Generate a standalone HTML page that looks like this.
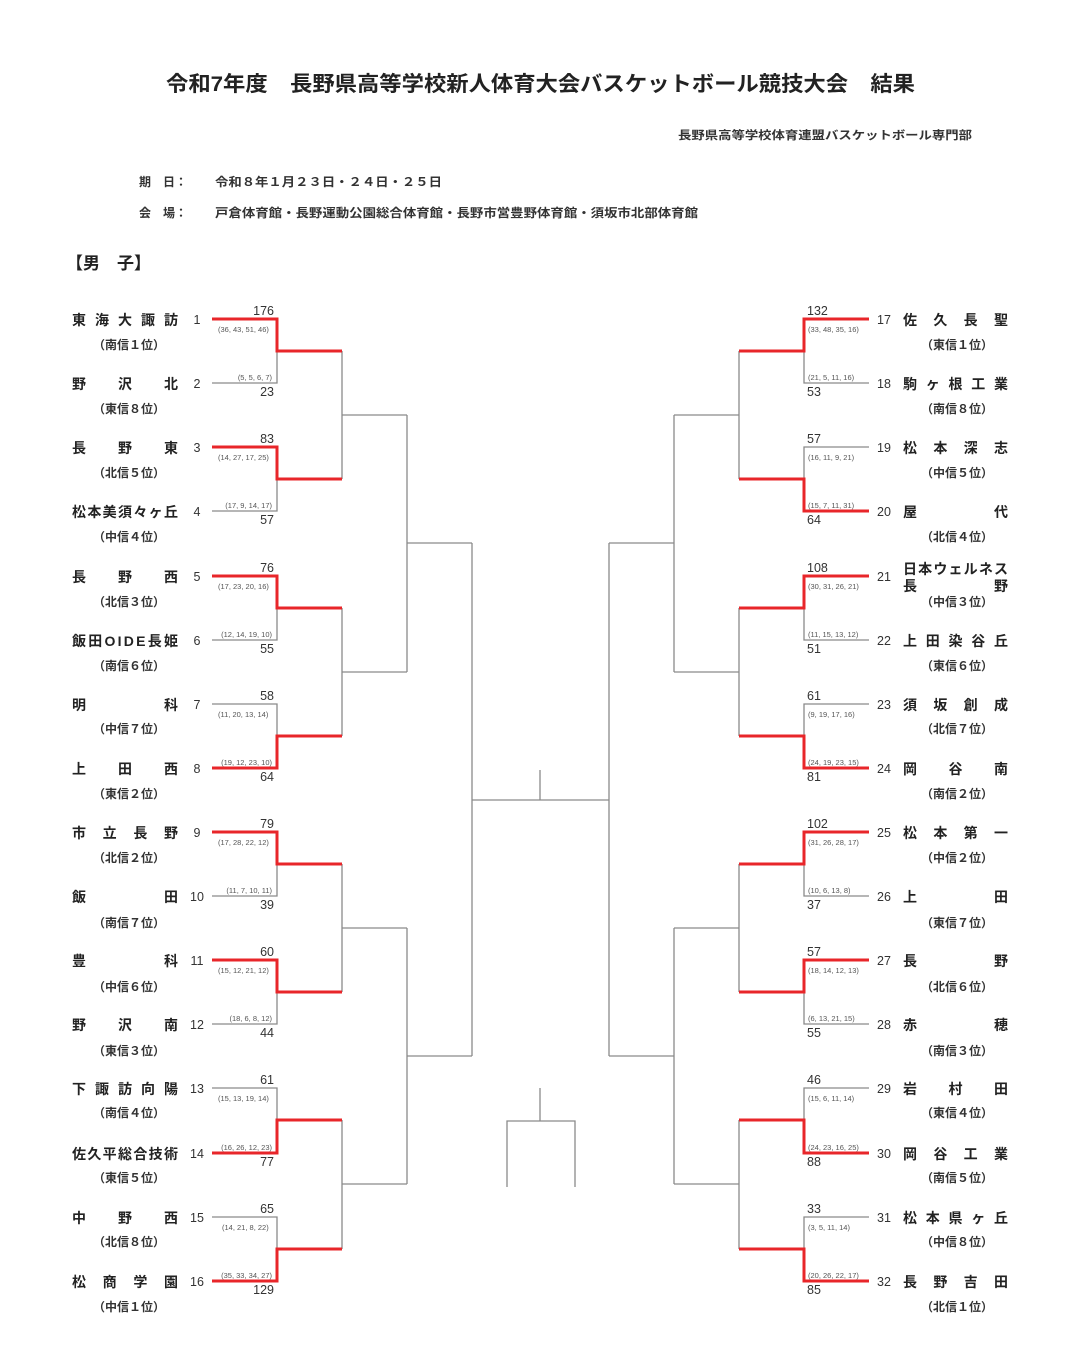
<!DOCTYPE html>
<html><head><meta charset="utf-8">
<style>
html,body{margin:0;padding:0;background:#fff;}
svg{display:block;font-family:"Liberation Sans","Noto Sans CJK JP",sans-serif;}
.n{font-size:14px;font-weight:bold;fill:#222;}
.s{font-size:12.5px;fill:#333;}
.r{font-size:12px;font-weight:bold;fill:#333;}
.q{font-size:7.5px;fill:#555;}
.g{fill:none;stroke:#8a8a8a;stroke-width:1.3;}
.red{fill:none;stroke:#e8262a;stroke-width:3;}
</style></head><body>
<svg width="1086" height="1372" viewBox="0 0 1086 1372" xmlns="http://www.w3.org/2000/svg">
<rect width="1086" height="1372" fill="#fff"/>
<text x="166" y="91" textLength="749" lengthAdjust="spacingAndGlyphs" style="font-size:21px;font-weight:bold;fill:#222">令和7年度　長野県高等学校新人体育大会バスケットボール競技大会　結果</text>
<text x="678" y="139" textLength="294" lengthAdjust="spacingAndGlyphs" style="font-size:11.5px;font-weight:bold;fill:#333">長野県高等学校体育連盟バスケットボール専門部</text>
<text x="139" y="186" style="font-size:12px;font-weight:bold;fill:#333">期　日：</text>
<text x="215" y="186" textLength="227" lengthAdjust="spacingAndGlyphs" style="font-size:12px;font-weight:bold;fill:#333">令和８年１月２３日・２４日・２５日</text>
<text x="139" y="217" style="font-size:12px;font-weight:bold;fill:#333">会　場：</text>
<text x="215" y="217" textLength="483" lengthAdjust="spacingAndGlyphs" style="font-size:12px;font-weight:bold;fill:#333">戸倉体育館・長野運動公園総合体育館・長野市営豊野体育館・須坂市北部体育館</text>
<text x="66" y="269" style="font-size:17px;font-weight:bold;fill:#222">【男　子】</text>

<path class="g" d="M212 383H277V351 M212 511H277V479 M212 640H277V608 M212 704H277V736 M212 896H277V864 M212 1024H277V992 M212 1088H277V1120 M212 1217H277V1249
M342 351V479 M342 608V736 M342 864V992 M342 1120V1249
M342 415H407 M342 672H407 M342 928H407 M342 1184H407
M407 415V672 M407 928V1184 M407 543H472 M407 1056H472
M472 543V1056 M472 800H609 M540 770V800
M540 1088V1121 M507 1187V1121H575V1187"/>
<path class="g" d="M869 383H804V351 M869 447H804V479 M869 640H804V608 M869 704H804V736 M869 896H804V864 M869 1024H804V992 M869 1088H804V1120 M869 1217H804V1249
M739 351V479 M739 608V736 M739 864V992 M739 1120V1249
M739 415H674 M739 672H674 M739 928H674 M739 1184H674
M674 415V672 M674 928V1184 M674 543H609 M674 1056H609
M609 543V1056"/>
<path class="red" d="M212 319H277V351H342 M212 447H277V479H342 M212 576H277V608H342 M212 768H277V736H342 M212 832H277V864H342 M212 960H277V992H342 M212 1153H277V1120H342 M212 1281H277V1249H342"/>
<path class="red" d="M869 319H804V351H739 M869 511H804V479H739 M869 576H804V608H739 M869 768H804V736H739 M869 832H804V864H739 M869 960H804V992H739 M869 1153H804V1120H739 M869 1281H804V1249H739"/>

<g class="n">
<text x="72" y="325" textLength="106" lengthAdjust="spacing">東海大諏訪</text>
<text x="72" y="389" textLength="106" lengthAdjust="spacing">野沢北</text>
<text x="72" y="453" textLength="106" lengthAdjust="spacing">長野東</text>
<text x="72" y="517" textLength="106" lengthAdjust="spacing">松本美須々ヶ丘</text>
<text x="72" y="582" textLength="106" lengthAdjust="spacing">長野西</text>
<text x="72" y="646" textLength="106" lengthAdjust="spacing">飯田OIDE長姫</text>
<text x="72" y="710" textLength="106" lengthAdjust="spacing">明科</text>
<text x="72" y="774" textLength="106" lengthAdjust="spacing">上田西</text>
<text x="72" y="838" textLength="106" lengthAdjust="spacing">市立長野</text>
<text x="72" y="902" textLength="106" lengthAdjust="spacing">飯田</text>
<text x="72" y="966" textLength="106" lengthAdjust="spacing">豊科</text>
<text x="72" y="1030" textLength="106" lengthAdjust="spacing">野沢南</text>
<text x="72" y="1094" textLength="106" lengthAdjust="spacing">下諏訪向陽</text>
<text x="72" y="1159" textLength="106" lengthAdjust="spacing">佐久平総合技術</text>
<text x="72" y="1223" textLength="106" lengthAdjust="spacing">中野西</text>
<text x="72" y="1287" textLength="106" lengthAdjust="spacing">松商学園</text>
</g>
<g class="s" text-anchor="middle">
<text x="197" y="324">1</text><text x="197" y="388">2</text><text x="197" y="452">3</text><text x="197" y="516">4</text>
<text x="197" y="581">5</text><text x="197" y="645">6</text><text x="197" y="709">7</text><text x="197" y="773">8</text>
<text x="197" y="837">9</text><text x="197" y="901">10</text><text x="197" y="965">11</text><text x="197" y="1029">12</text>
<text x="197" y="1093">13</text><text x="197" y="1158">14</text><text x="197" y="1222">15</text><text x="197" y="1286">16</text>
</g>
<g class="r">
<text x="93" y="349">（南信１位）</text><text x="93" y="413">（東信８位）</text><text x="93" y="477">（北信５位）</text><text x="93" y="541">（中信４位）</text>
<text x="93" y="606">（北信３位）</text><text x="93" y="670">（南信６位）</text><text x="93" y="733">（中信７位）</text><text x="93" y="798">（東信２位）</text>
<text x="93" y="862">（北信２位）</text><text x="93" y="927">（南信７位）</text><text x="93" y="991">（中信６位）</text><text x="93" y="1055">（東信３位）</text>
<text x="93" y="1117">（南信４位）</text><text x="93" y="1182">（東信５位）</text><text x="93" y="1246">（北信８位）</text><text x="93" y="1311">（中信１位）</text>
</g>

<g class="n">
<text x="903" y="325" textLength="105" lengthAdjust="spacing">佐久長聖</text>
<text x="903" y="389" textLength="105" lengthAdjust="spacing">駒ヶ根工業</text>
<text x="903" y="453" textLength="105" lengthAdjust="spacing">松本深志</text>
<text x="903" y="517" textLength="105" lengthAdjust="spacing">屋代</text>
<text x="903" y="574" textLength="105" lengthAdjust="spacing">日本ウェルネス</text>
<text x="903" y="591" textLength="105" lengthAdjust="spacing">長野</text>
<text x="903" y="646" textLength="105" lengthAdjust="spacing">上田染谷丘</text>
<text x="903" y="710" textLength="105" lengthAdjust="spacing">須坂創成</text>
<text x="903" y="774" textLength="105" lengthAdjust="spacing">岡谷南</text>
<text x="903" y="838" textLength="105" lengthAdjust="spacing">松本第一</text>
<text x="903" y="902" textLength="105" lengthAdjust="spacing">上田</text>
<text x="903" y="966" textLength="105" lengthAdjust="spacing">長野</text>
<text x="903" y="1030" textLength="105" lengthAdjust="spacing">赤穂</text>
<text x="903" y="1094" textLength="105" lengthAdjust="spacing">岩村田</text>
<text x="903" y="1159" textLength="105" lengthAdjust="spacing">岡谷工業</text>
<text x="903" y="1223" textLength="105" lengthAdjust="spacing">松本県ヶ丘</text>
<text x="903" y="1287" textLength="105" lengthAdjust="spacing">長野吉田</text>
</g>
<g class="s" text-anchor="middle">
<text x="884" y="324">17</text><text x="884" y="388">18</text><text x="884" y="452">19</text><text x="884" y="516">20</text>
<text x="884" y="581">21</text><text x="884" y="645">22</text><text x="884" y="709">23</text><text x="884" y="773">24</text>
<text x="884" y="837">25</text><text x="884" y="901">26</text><text x="884" y="965">27</text><text x="884" y="1029">28</text>
<text x="884" y="1093">29</text><text x="884" y="1158">30</text><text x="884" y="1222">31</text><text x="884" y="1286">32</text>
</g>
<g class="r">
<text x="921" y="349">（東信１位）</text><text x="921" y="413">（南信８位）</text><text x="921" y="477">（中信５位）</text><text x="921" y="541">（北信４位）</text>
<text x="921" y="606">（中信３位）</text><text x="921" y="670">（東信６位）</text><text x="921" y="733">（北信７位）</text><text x="921" y="798">（南信２位）</text>
<text x="921" y="862">（中信２位）</text><text x="921" y="927">（東信７位）</text><text x="921" y="991">（北信６位）</text><text x="921" y="1055">（南信３位）</text>
<text x="921" y="1117">（東信４位）</text><text x="921" y="1182">（南信５位）</text><text x="921" y="1246">（中信８位）</text><text x="921" y="1311">（北信１位）</text>
</g>

<g class="s" text-anchor="end">
<text x="274" y="315">176</text><text x="274" y="396">23</text>
<text x="274" y="443">83</text><text x="274" y="524">57</text>
<text x="274" y="572">76</text><text x="274" y="653">55</text>
<text x="274" y="700">58</text><text x="274" y="781">64</text>
<text x="274" y="828">79</text><text x="274" y="909">39</text>
<text x="274" y="956">60</text><text x="274" y="1037">44</text>
<text x="274" y="1084">61</text><text x="274" y="1166">77</text>
<text x="274" y="1213">65</text><text x="274" y="1294">129</text>
</g>
<g class="q">
<text x="218" y="332">(36, 43, 51, 46)</text><text x="272" y="380" text-anchor="end">(5, 5, 6, 7)</text>
<text x="218" y="460">(14, 27, 17, 25)</text><text x="272" y="508" text-anchor="end">(17, 9, 14, 17)</text>
<text x="218" y="589">(17, 23, 20, 16)</text><text x="272" y="637" text-anchor="end">(12, 14, 19, 10)</text>
<text x="218" y="717">(11, 20, 13, 14)</text><text x="272" y="765" text-anchor="end">(19, 12, 23, 10)</text>
<text x="218" y="845">(17, 28, 22, 12)</text><text x="272" y="893" text-anchor="end">(11, 7, 10, 11)</text>
<text x="218" y="973">(15, 12, 21, 12)</text><text x="272" y="1021" text-anchor="end">(18, 6, 8, 12)</text>
<text x="218" y="1101">(15, 13, 19, 14)</text><text x="272" y="1150" text-anchor="end">(16, 26, 12, 23)</text>
<text x="222" y="1230">(14, 21, 8, 22)</text><text x="272" y="1278" text-anchor="end">(35, 33, 34, 27)</text>
</g>

<g class="s">
<text x="807" y="315">132</text><text x="807" y="396">53</text>
<text x="807" y="443">57</text><text x="807" y="524">64</text>
<text x="807" y="572">108</text><text x="807" y="653">51</text>
<text x="807" y="700">61</text><text x="807" y="781">81</text>
<text x="807" y="828">102</text><text x="807" y="909">37</text>
<text x="807" y="956">57</text><text x="807" y="1037">55</text>
<text x="807" y="1084">46</text><text x="807" y="1166">88</text>
<text x="807" y="1213">33</text><text x="807" y="1294">85</text>
</g>
<g class="q">
<text x="808" y="332">(33, 48, 35, 16)</text><text x="808" y="380">(21, 5, 11, 16)</text>
<text x="808" y="460">(16, 11, 9, 21)</text><text x="808" y="508">(15, 7, 11, 31)</text>
<text x="808" y="589">(30, 31, 26, 21)</text><text x="808" y="637">(11, 15, 13, 12)</text>
<text x="808" y="717">(9, 19, 17, 16)</text><text x="808" y="765">(24, 19, 23, 15)</text>
<text x="808" y="845">(31, 26, 28, 17)</text><text x="808" y="893">(10, 6, 13, 8)</text>
<text x="808" y="973">(18, 14, 12, 13)</text><text x="808" y="1021">(6, 13, 21, 15)</text>
<text x="808" y="1101">(15, 6, 11, 14)</text><text x="808" y="1150">(24, 23, 16, 25)</text>
<text x="808" y="1230">(3, 5, 11, 14)</text><text x="808" y="1278">(20, 26, 22, 17)</text>
</g>
</svg>
</body></html>
